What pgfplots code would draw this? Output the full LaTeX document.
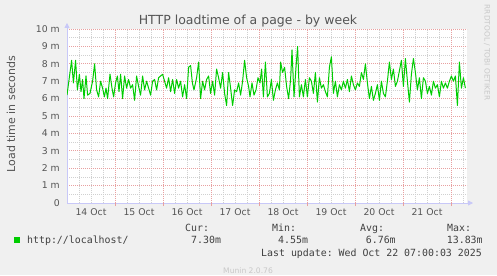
\documentclass[border=0pt]{standalone}
\usepackage{fontspec}
\setmainfont{DejaVu Sans}
\setmonofont{DejaVu Sans Mono}
\usepackage{pgfplots}
\pgfplotsset{compat=1.18}
\usetikzlibrary{arrows.meta}
\definecolor{bgc}{HTML}{F0F0F0}
\definecolor{txt}{HTML}{555555}
\definecolor{lgt}{HTML}{404040}
\definecolor{majg}{HTML}{E8A0A0}
\definecolor{ming}{HTML}{D0D0D0}
\definecolor{axc}{HTML}{C8C8F8}
\definecolor{lgreen}{HTML}{00CC00}
\definecolor{wm}{HTML}{C8C8C8}
\pgfplotstableread{
h v
0.0 6.2
1.5 7.5
2.3 8.2
3.2 6.9
4.3 8.2
5.2 6.5
6.2 7.4
7.0 6.4
7.8 7.1
8.5 6.0
9.5 7.3
10.3 6.2
11.5 6.3
12.8 7.0
13.8 8.0
14.8 6.5
15.8 6.1
16.8 7.0
17.8 6.6
18.7 6.1
19.5 6.6
20.3 6.0
21.5 7.4
22.5 6.6
23.3 6.1
24.3 6.9
25.2 7.3
26.0 6.4
26.8 7.4
27.8 6.0
28.8 7.3
29.8 6.6
30.8 7.1
31.8 6.6
32.8 6.8
33.8 5.9
34.8 7.3
35.8 6.7
36.8 6.2
37.8 7.3
38.8 6.5
39.8 7.0
40.8 6.6
41.8 6.2
42.8 7.0
43.8 7.1
44.8 6.5
45.8 7.2
46.8 7.3
47.8 7.4
48.8 7.0
49.8 6.6
50.8 7.2
51.8 6.4
52.8 7.1
53.8 6.3
54.8 7.1
55.8 6.6
56.8 7.0
57.8 6.1
58.8 6.8
59.8 6.0
60.8 7.8
61.8 7.9
62.7 6.9
63.5 6.5
64.8 7.2
65.8 8.1
66.8 6.0
67.8 7.0
68.8 6.5
69.8 7.1
70.8 7.3
71.8 6.3
72.8 7.0
73.8 6.2
74.8 7.7
75.8 7.2
76.8 6.6
77.8 7.5
78.8 6.3
79.8 5.6
80.8 7.5
81.8 6.6
82.8 5.6
83.8 6.5
84.8 6.4
85.8 6.9
86.8 6.2
87.8 7.0
88.8 8.2
89.8 7.2
90.8 6.7
91.5 6.1
92.5 6.9
93.5 6.2
94.5 6.5
95.5 7.2
96.5 6.9
97.3 7.7
98.2 6.1
99.2 8.1
100.2 6.1
101.2 6.3
102.2 7.1
103.2 5.9
104.2 6.5
105.2 6.9
106.2 6.5
106.8 8.1
107.8 7.5
108.8 7.8
109.8 6.7
110.8 6.0
111.8 7.1
112.5 8.8
113.5 6.1
114.5 7.8
115.3 9.0
116.2 6.1
117.2 6.8
118.2 6.1
119.2 7.1
120.2 6.1
121.2 7.2
122.2 7.0
123.2 6.3
124.2 7.5
125.2 5.8
126.2 7.2
127.2 6.6
128.2 6.8
129.2 6.4
130.2 6.1
131.2 7.8
132.2 8.4
133.2 6.3
134.2 7.0
135.2 6.1
136.2 6.8
137.2 6.5
138.2 7.0
139.2 6.6
140.2 7.1
141.2 6.4
142.2 7.3
143.2 6.8
144.2 6.5
145.2 6.9
146.2 6.7
147.2 7.5
148.2 7.1
149.2 8.0
150.2 6.9
151.2 6.0
152.2 6.7
153.2 5.9
154.2 6.3
155.2 6.8
156.2 5.9
157.2 7.0
158.2 6.3
159.2 6.1
160.2 7.0
161.2 8.1
162.2 7.1
163.2 7.7
164.2 6.7
165.2 7.0
166.2 7.6
167.2 8.2
168.2 6.7
169.2 8.3
170.2 7.0
171.2 5.8
172.2 7.4
173.2 8.3
174.2 7.5
175.2 6.5
176.2 7.2
177.2 6.0
178.2 7.2
179.2 7.0
180.2 6.3
181.2 6.7
182.2 6.2
183.2 7.0
184.2 6.6
185.2 6.8
186.2 6.1
187.2 7.0
188.2 6.6
189.2 6.9
190.2 6.6
191.2 7.0
192.2 7.3
193.2 7.0
194.2 7.3
195.2 5.6
196.2 8.1
197.2 6.6
198.2 7.2
199.2 6.6
}\loadtime
\begin{document}
\begin{tikzpicture}[x=1bp,y=1bp]
\fill[bgc] (-67,-72) rectangle (430,203);
\path[use as bounding box] (-67,-72) rectangle (430,203);
\begin{axis}[at={(0,0)}, anchor=south west, scale only axis,
  width=400bp, height=174bp,
  xmin=0, xmax=200, ymin=0, ymax=10,
  axis background/.style={fill=white},
  axis lines=left,
  axis line style={draw=axc, line width=0.8bp},
  x axis line style={-{Triangle[length=5bp,width=5bp]}, shorten >=-6bp},
  y axis line style={-{Triangle[length=5bp,width=5bp]}, shorten >=-6bp},
  xtick={12,36,60,84,108,132,156,180},
  xticklabels={14 Oct,15 Oct,16 Oct,17 Oct,18 Oct,19 Oct,20 Oct,21 Oct},
  minor xtick={6,12,18,30,36,42,54,60,66,78,84,90,102,108,114,126,132,138,150,156,162,174,180,186,198},
  ytick={0,1,2,3,4,5,6,7,8,9,10},
  yticklabels={0,1 m,2 m,3 m,4 m,5 m,6 m,7 m,8 m,9 m,10 m},
  minor ytick={0.5,1.5,2.5,3.5,4.5,5.5,6.5,7.5,8.5,9.5},
  major tick length=0pt, minor tick length=0pt,
  xmajorgrids=false, xminorgrids=true, ymajorgrids=true, yminorgrids=true,
  extra x ticks={24,48,72,96,120,144,168,192},
  extra x tick labels={},
  extra x tick style={grid=major, major tick length=3bp, tick align=outside, major tick style={majg, line width=0.8bp}},
  major grid style={majg, dash pattern=on 1bp off 1bp, line width=0.85bp},
  minor grid style={ming, dash pattern=on 1bp off 1bp, line width=0.8bp},
  xticklabel style={font=\fontsize{9.3bp}{11bp}\selectfont, text=txt, inner sep=0pt, anchor=north, yshift=-5bp},
  yticklabel style={font=\fontsize{9.3bp}{11bp}\selectfont, text=txt, inner sep=0pt, anchor=east, xshift=-7bp},
  clip=true,
]
\addplot[lgreen, line width=1bp, line join=round] table[x=h, y=v] {\loadtime};
\end{axis}
\node[anchor=base, inner sep=0pt, text=txt, font=\fontsize{12.5bp}{15bp}\selectfont] at (181,179) {HTTP loadtime of a page - by week};
\node[rotate=90, inner sep=0pt, text=txt, font=\fontsize{11bp}{13bp}\selectfont] at (-56,89) {Load time in seconds};
\node[rotate=-90, inner sep=0pt, text=wm, font=\fontsize{7.4bp}{9bp}\selectfont] at (420,150.5) {RRDTOOL / TOBI OETIKER};
\fill[lgreen] (-53,-40) rectangle (-47,-34);
\begin{scope}[every node/.style={anchor=base west, inner sep=0pt, text=lgt, font=\ttfamily\fontsize{9.9bp}{12bp}\selectfont}]
\node at (-40,-40) {http://localhost/};
\node at (118,-28) {Cur:};
\node at (205,-28) {Min:};
\node at (293,-28) {Avg:};
\node at (380,-28) {Max:};
\node at (124,-40) {7.30m};
\node at (211,-40) {4.55m};
\node at (298.7,-40) {6.76m};
\node at (379.7,-40) {13.83m};
\node at (194,-53) {Last update: Wed Oct 22 07:00:03 2025};
\end{scope}
\node[anchor=base west, inner sep=0pt, text=wm, font=\fontsize{7.6bp}{9bp}\selectfont] at (156,-70.5) {Munin 2.0.76};
\end{tikzpicture}
\end{document}
